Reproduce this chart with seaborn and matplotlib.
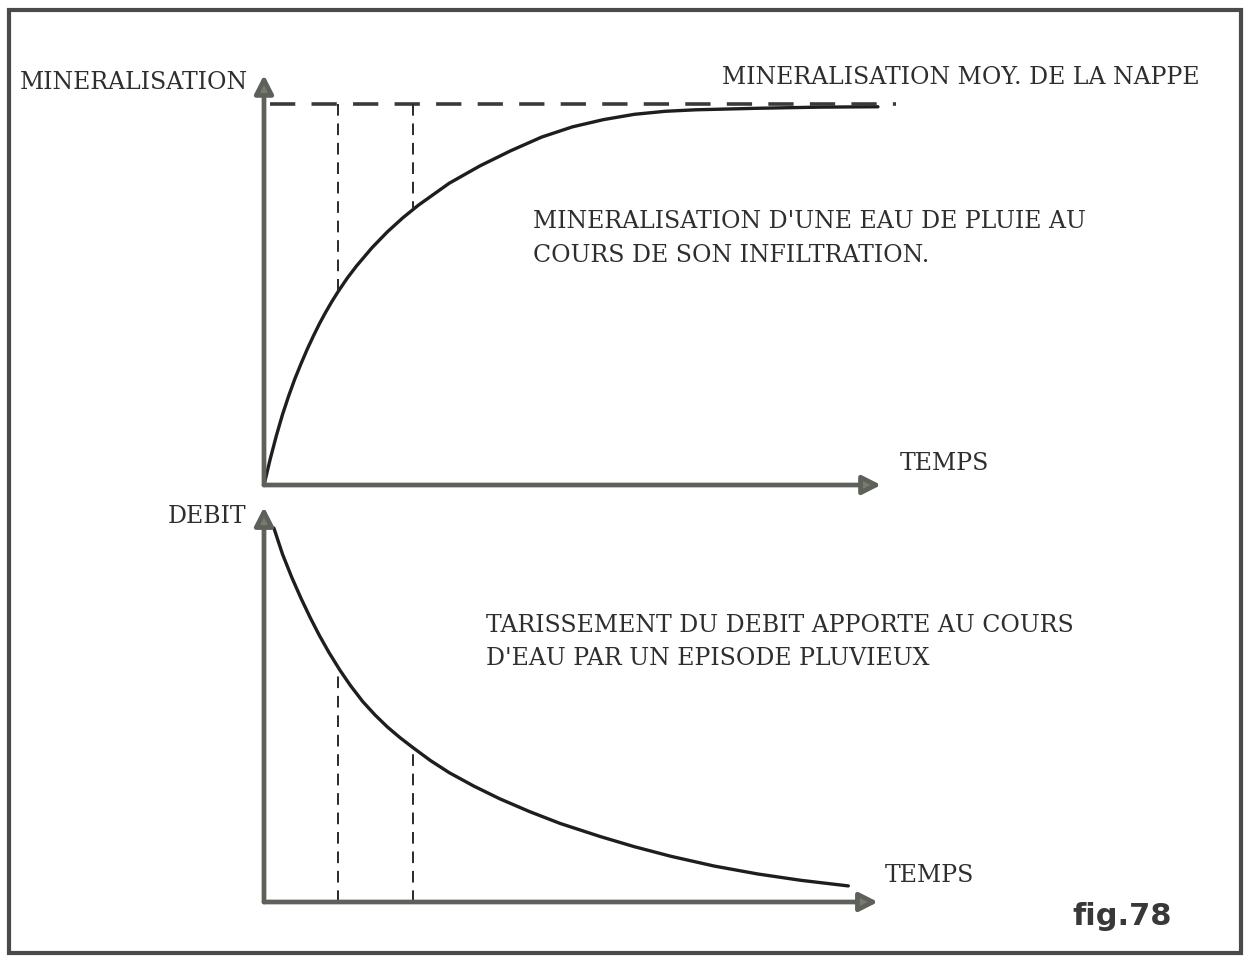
import numpy as np
import pandas as pd
import matplotlib
matplotlib.use("Agg")
import matplotlib.pyplot as plt
from matplotlib.patches import Rectangle
import seaborn as sns

# --- data -----------------------------------------------------------------
# Mineralisation of infiltrating rain water (relative units, 100 = aquifer mean)
temps_min = [0, 0.1, 0.2, 0.3, 0.4, 0.5, 0.6, 0.7, 0.8, 0.9, 1.0, 1.1, 1.2,
             1.35, 1.5, 1.75, 2.0, 2.25, 2.5, 2.75, 3.0, 3.5, 4.0, 4.5, 5.0,
             5.5, 6.0, 6.5, 7.0, 8.0, 9.0, 9.95]
mineralisation = [0, 6.8, 13, 18.6, 23.5, 28, 32, 35.8, 39.3, 42.6, 45.6, 48.4,
                  51.0, 54.6, 57.8, 62.6, 66.8, 70.5, 73.8, 76.7, 79.6, 84.2,
                  88.2, 91.8, 94.5, 96.4, 97.8, 98.6, 99.0, 99.4, 99.7, 99.8]
mineralisation_moy = 100.6

# Recession of stream discharge after a rain episode (relative units)
temps_deb = [0.16, 0.3, 0.45, 0.6, 0.75, 0.9, 1.05, 1.23, 1.4, 1.6, 1.8, 2.0,
             2.2, 2.42, 2.7, 3.0, 3.4, 3.82, 4.3, 4.8, 5.45, 6.0, 6.6, 7.3,
             8.0, 8.7, 9.47]
debit = [100, 93.0, 86.8, 81.2, 76.0, 71.2, 66.8, 62.0, 57.9, 53.6, 50.0, 46.8,
         44.0, 41.2, 37.8, 34.6, 31.0, 27.6, 24.2, 21.0, 17.5, 14.8, 12.2, 9.6,
         7.5, 5.8, 4.3]

# two reference instants marked on both graphs
instants = [1.2, 2.42]

# --- figure ---------------------------------------------------------------
W, H = 1245, 957
sns.set_theme(style="white")
plt.rcParams["font.family"] = ["DejaVu Serif"]

fig = plt.figure(figsize=(W / 100, H / 100), dpi=100)
fig.patch.set_facecolor("white")

X0 = 264          # pixel column of both vertical axes
PX_T = 61.7       # pixels per time unit


def make_axes(y_origin, px_unit, ymax, xmax=10.5):
    left = X0 / W
    bottom = 1 - y_origin / H
    ax = fig.add_axes([left, bottom, xmax * PX_T / W, ymax * px_unit / H])
    ax.set_xlim(0, xmax)
    ax.set_ylim(0, ymax)
    ax.set_axis_off()
    return ax


AXIS_COL = "#5d6159"
HEAD_COL = "#767b72"
CURVE_COL = "#1e1e1e"
TEXT_COL = "#2e2e2e"


def draw_axes_arrows(ax, xend, yend):
    style = "-|>,head_length=0.55,head_width=0.28"
    for end in [(xend, 0), (0, yend)]:
        ax.annotate("", xy=end, xytext=(0, 0),
                    arrowprops=dict(arrowstyle=style, mutation_scale=20,
                                    lw=3.4, color=AXIS_COL, fc=HEAD_COL,
                                    shrinkA=0, shrinkB=0),
                    annotation_clip=False)


# --- upper graph: mineralisation -----------------------------------------
ax1 = make_axes(485, 3.79, 115)
df_min = pd.DataFrame({"temps": temps_min, "min": mineralisation})
sns.lineplot(data=df_min, x="temps", y="min", ax=ax1, color=CURVE_COL,
             lw=2.4, sort=False, estimator=None)
ax1.plot([0.1, 10.25], [mineralisation_moy] * 2, color="#3a3a3a", lw=2.6,
         dashes=(7, 4.5), clip_on=False)
for t in instants:
    m = np.interp(t, temps_min, mineralisation)
    ax1.plot([t, t], [mineralisation_moy, m], color="#2a2a2a", lw=1.4,
             dashes=(6, 4))
draw_axes_arrows(ax1, 10.0, 108.2)

# --- lower graph: discharge ----------------------------------------------
ax2 = make_axes(902, 3.74, 110)
df_deb = pd.DataFrame({"temps": temps_deb, "debit": debit})
sns.lineplot(data=df_deb, x="temps", y="debit", ax=ax2, color=CURVE_COL,
             lw=2.4, sort=False, estimator=None)
for t in instants:
    q = np.interp(t, temps_deb, debit)
    ax2.plot([t, t], [0, q], color="#2a2a2a", lw=1.4, dashes=(6, 4))
draw_axes_arrows(ax2, 9.95, 105.6)


# --- labels ----------------------------------------------------------------
def label(x, y, s, **kw):
    kw.setdefault("fontsize", 17)
    kw.setdefault("color", TEXT_COL)
    fig.text(x / W, 1 - y / H, s, ha="left", va="baseline", **kw)


label(20, 89, "MINERALISATION")
label(722, 84, "MINERALISATION MOY. DE LA NAPPE")
label(533, 228, "MINERALISATION D'UNE EAU DE PLUIE AU")
label(533, 262, "COURS DE SON INFILTRATION.")
label(900, 470, "TEMPS")
label(168, 523, "DEBIT")
label(486, 632, "TARISSEMENT DU DEBIT APPORTE AU COURS")
label(486, 665, "D'EAU PAR UN EPISODE PLUVIEUX")
label(885, 882, "TEMPS")
label(1072, 925, "fig.78", family=["DejaVu Sans"], fontweight="bold",
      fontsize=22, color="#383838")

# frame around the figure
fig.patches.append(Rectangle((9 / W, 1 - 953 / H), (1241 - 9) / W, (953 - 10) / H,
                             fill=False, lw=3, ec="#4a4a4a",
                             transform=fig.transFigure, figure=fig))

fig.savefig("out.png", dpi=100, facecolor="white")
